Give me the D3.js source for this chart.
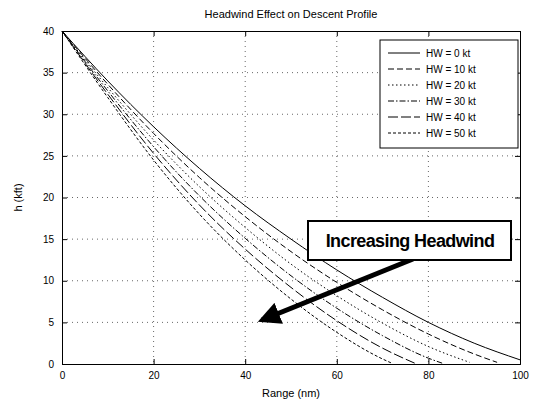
<!DOCTYPE html>
<html>
<head>
<meta charset="utf-8">
<script src="https://cdn.jsdelivr.net/npm/d3@7"></script>
<style>
  body { margin: 0; background: #fff; }
  text { font-family: "Liberation Sans", Arial, sans-serif; }
</style>
</head>
<body>
<div id="chart"></div>
<script>
// Series data: distance vs altitude for each headwind value
var seriesNames = ["HW = 0 kt", "HW = 10 kt", "HW = 20 kt", "HW = 30 kt", "HW = 40 kt", "HW = 50 kt"];
var hw0  = [[0,40],[10,34],[20,28.5],[30,23.5],[40,19],[50,15],[60,11.3],[70,8],[80,5],[90,2.5],[100,0.5]];
var hw10 = [[0,40],[10,33.6],[20,27.7],[30,22.4],[40,17.7],[50,13.5],[60,9.8],[70,6.5],[80,3.6],[90,1.2],[95,0.2]];
var hw20 = [[0,40],[10,33.2],[20,26.9],[30,21.3],[40,16.4],[50,12],[60,8.2],[70,4.9],[80,2.1],[89,0.2]];
var hw30 = [[0,40],[10,32.8],[20,26.1],[30,20.2],[40,15.1],[50,10.6],[60,6.7],[70,3.4],[80,0.7],[83,0.1]];
var hw40 = [[0,40],[10,32.4],[20,25.3],[30,19.1],[40,13.8],[50,9.2],[60,5.2],[70,1.9],[77,0.1]];
var hw50 = [[0,40],[10,32],[20,24.5],[30,18],[40,12.5],[50,7.8],[60,3.8],[70,0.6],[72,0.1]];
var allSeries = [hw0, hw10, hw20, hw30, hw40, hw50];

var xTicks = [0, 20, 40, 60, 80, 100];
var yTicks = [0, 5, 10, 15, 20, 25, 30, 35, 40];

var dashes = ["none", "6,3", "1.5,2.5", "6,2,1.5,2", "10,3", "3,2"];

var W = 537, H = 405;
var margin = { top: 31, right: 17, bottom: 41, left: 62 },
    width = W - margin.left - margin.right,
    height = H - margin.top - margin.bottom;

var svg = d3.select("#chart").append("svg")
    .attr("width", W)
    .attr("height", H);

var g = svg.append("g")
    .attr("transform", "translate(" + margin.left + "," + margin.top + ")");

var x = d3.scaleLinear().domain([0, 100]).range([0, width]);
var y = d3.scaleLinear().domain([0, 40]).range([height, 0]);

// grid
g.append("g").selectAll("line")
    .data(xTicks.slice(1, -1))
    .enter().append("line")
    .attr("x1", function(d) { return x(d); })
    .attr("x2", function(d) { return x(d); })
    .attr("y1", 0).attr("y2", height)
    .style("stroke", "#000").style("stroke-width", 0.6)
    .style("stroke-dasharray", "1,4");
g.append("g").selectAll("line")
    .data(yTicks.slice(1, -1))
    .enter().append("line")
    .attr("y1", function(d) { return y(d); })
    .attr("y2", function(d) { return y(d); })
    .attr("x1", 0).attr("x2", width)
    .style("stroke", "#000").style("stroke-width", 0.6)
    .style("stroke-dasharray", "1,4");

// axes (ticks inward, box style)
var xAxis = d3.axisBottom(x).tickValues(xTicks).tickSize(-5).tickPadding(8);
var yAxis = d3.axisLeft(y).tickValues(yTicks).tickSize(-5).tickPadding(8);

g.append("g").attr("class", "axis")
    .attr("transform", "translate(0," + height + ")")
    .call(xAxis);
g.append("g").attr("class", "axis")
    .call(yAxis);
g.append("g").attr("class", "axis")
    .call(d3.axisTop(x).tickValues(xTicks).tickSize(-5).tickFormat(""));
g.append("g").attr("class", "axis")
    .attr("transform", "translate(" + width + ",0)")
    .call(d3.axisRight(y).tickValues(yTicks).tickSize(-5).tickFormat(""));

g.selectAll(".axis .domain, .axis .tick line").style("stroke", "#000").style("stroke-width", 1);
g.selectAll(".axis text").style("font-size", "10px").style("fill", "#000")
    .style("font-family", "Liberation Sans, Arial, sans-serif");

// lines
var line = d3.line()
    .x(function(d) { return x(d[0]); })
    .y(function(d) { return y(d[1]); })
    .curve(d3.curveMonotoneX);

g.selectAll(".series")
    .data(allSeries)
    .enter().append("path")
    .attr("class", "series")
    .attr("d", line)
    .style("fill", "none")
    .style("stroke", "#000")
    .style("stroke-width", 1)
    .style("stroke-dasharray", function(d, i) { return dashes[i]; });

// title and labels
svg.append("text")
    .attr("x", margin.left + width / 2).attr("y", 18)
    .attr("text-anchor", "middle")
    .style("font-size", "11px")
    .text("Headwind Effect on Descent Profile");

svg.append("text")
    .attr("x", margin.left + width / 2).attr("y", 397)
    .attr("text-anchor", "middle")
    .style("font-size", "11px")
    .text("Range (nm)");

svg.append("text")
    .attr("transform", "translate(22," + (margin.top + height / 2) + ") rotate(-90)")
    .attr("text-anchor", "middle")
    .style("font-size", "11px")
    .text("h (kft)");

// legend
var lg = g.append("g").attr("transform", "translate(" + (width - 140) + ",9)");
lg.append("rect")
    .attr("width", 138).attr("height", 108)
    .style("fill", "#fff").style("stroke", "#000").style("stroke-width", 1);

var items = lg.selectAll(".legend")
    .data(seriesNames)
    .enter().append("g")
    .attr("class", "legend")
    .attr("transform", function(d, i) { return "translate(0," + (13 + i * 16) + ")"; });

items.append("line")
    .attr("x1", 8).attr("x2", 40)
    .style("stroke", "#000")
    .style("stroke-dasharray", function(d, i) { return dashes[i]; });

items.append("text")
    .attr("x", 46).attr("dy", "0.35em")
    .style("font-size", "10px")
    .text(function(d) { return d; });

// annotation
var ann = svg.append("g");
ann.append("defs").append("marker")
    .attr("id", "arrow")
    .attr("viewBox", "0 0 10 10")
    .attr("refX", 8).attr("refY", 5)
    .attr("markerWidth", 4.5).attr("markerHeight", 4.5)
    .attr("orient", "auto")
    .append("path")
    .attr("d", "M0,0 L10,5 L0,10 Z")
    .style("fill", "#000");

ann.append("line")
    .attr("x1", 413).attr("y1", 259)
    .attr("x2", 262).attr("y2", 320)
    .style("stroke", "#000").style("stroke-width", 5)
    .attr("marker-end", "url(#arrow)");

ann.append("rect")
    .attr("x", 308).attr("y", 221)
    .attr("width", 203).attr("height", 39)
    .style("fill", "#fff").style("stroke", "#000").style("stroke-width", 2);

ann.append("text")
    .attr("x", 410).attr("y", 247)
    .attr("text-anchor", "middle")
    .style("font-size", "18px")
    .style("font-weight", "bold")
    .style("letter-spacing", "-0.6px")
    .text("Increasing Headwind");
</script>
</body>
</html>
